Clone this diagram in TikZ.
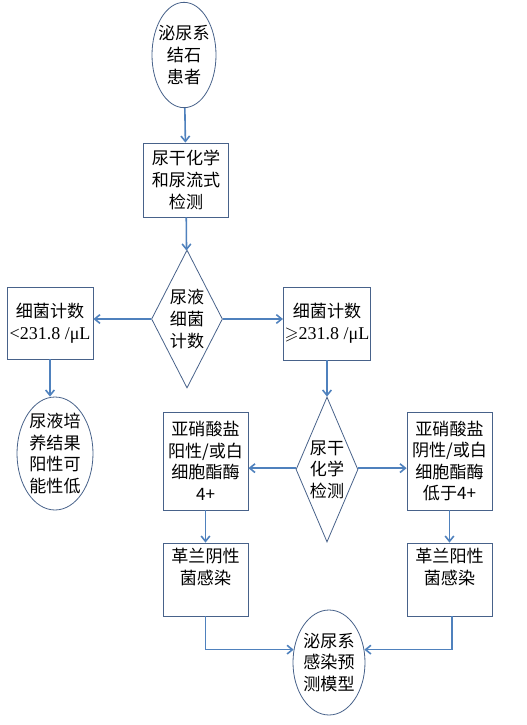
\documentclass[tikz,border=0pt]{standalone}
\usepackage{fontspec}
\usepackage{amssymb}
\setmainfont{Liberation Serif}
\newfontfamily\cjk{Noto Sans CJK SC}
\usepackage{tikz}
\usetikzlibrary{shapes.geometric,arrows.meta}
\usepackage{xcolor}
\definecolor{LineBlue}{RGB}{79,129,189}
\definecolor{EdgeBlue}{RGB}{72,98,138}

\begin{document}
\begin{tikzpicture}[
  x=0.75pt,y=-0.75pt,
  txt/.style={font=\cjk\fontsize{12.8}{16.2}\selectfont,align=center},
  lbl/.style={txt,inner sep=0pt},
  box/.style={txt,draw=EdgeBlue,line width=0.6pt,minimum width=63.75pt,inner sep=1pt},
  ell/.style={ellipse,draw=EdgeBlue,line width=0.6pt,inner sep=0pt},
  dia/.style={diamond,draw=EdgeBlue,line width=0.6pt,inner sep=0pt},
  arr/.style={draw=LineBlue,line width=1.2pt,-{Straight Barb[length=4pt,width=6.5pt]}}
]
\useasboundingbox (0,0) rectangle (526,725);
\node[ell,minimum width=48pt,minimum height=79pt,
  label={[lbl]center:泌尿系\\结石\\患者}] (patient) at (184,55) {};
\node[box,minimum height=55.5pt] (test) at (186,180)
  {尿干化学\\和尿流式\\检测};
\node[dia,minimum width=53.25pt,minimum height=103.5pt,
  label={[lbl]center:尿液\\细菌\\计数}] (count) at (187,319) {};
\node[box,minimum width=64.5pt,minimum height=54pt] (lowcnt) at (50,323)
  {细菌计数\\{\rmfamily\fontsize{13.5}{16}\selectfont <231.8 /μL}};
\node[box,minimum height=54.75pt] (highcnt) at (327,323.5)
  {细菌计数\\{\rmfamily\fontsize{13.5}{16}\selectfont $\geqslant$231.8 /μL}};
\node[ell,minimum width=57pt,minimum height=84.75pt,
  label={[lbl]center:尿液培\\养结果\\阳性可\\能性低}] (lowrisk) at (55,453.5) {};
\node[dia,minimum width=46.5pt,minimum height=108.75pt,
  label={[lbl]center:尿干\\化学\\检测}] (dipstick) at (327,469.5) {};
\node[box,minimum height=73.5pt] (pos) at (205.5,461)
  {亚硝酸盐\\阳性/或白\\细胞酯酶\\4+};
\node[box,minimum height=73.5pt] (neg) at (449.5,461)
  {亚硝酸盐\\阴性/或白\\细胞酯酶\\低于4+};
\node[box,minimum height=54.75pt,
  label={[lbl,anchor=north,yshift=-4pt]north:革兰阴性\\菌感染}] (gneg) at (205.5,579.5) {};
\node[box,minimum height=54.75pt,
  label={[lbl,anchor=north,yshift=-4pt]north:革兰阳性\\菌感染}] (gpos) at (449.5,579.5) {};
\node[ell,minimum width=54pt,minimum height=78.75pt,
  label={[lbl]center:泌尿系\\感染预\\测模型}] (model) at (329,662.5) {};

\draw[arr] (patient) -- (test);
\draw[arr] (test) -- (count);
\draw[arr] (count.west) -- (count.west -| lowcnt.east);
\draw[arr] (count.east) -- (count.east -| highcnt.west);
\draw[arr] (lowcnt) -- (lowcnt |- lowrisk.north);
\draw[arr] (highcnt) -- (dipstick);
\draw[arr] ([yshift=1pt]dipstick.west) -- ([yshift=1pt]dipstick.west -| pos.east);
\draw[arr] ([yshift=1pt]dipstick.east) -- ([yshift=1pt]dipstick.east -| neg.west);
\draw[arr] (pos) -- (gneg);
\draw[arr] (neg) -- (gpos);
\draw[arr] (gneg.south) |- (model.160);
\draw[arr] ([xshift=2pt]gpos.south) |- (model.20);
\end{tikzpicture}
\end{document}
